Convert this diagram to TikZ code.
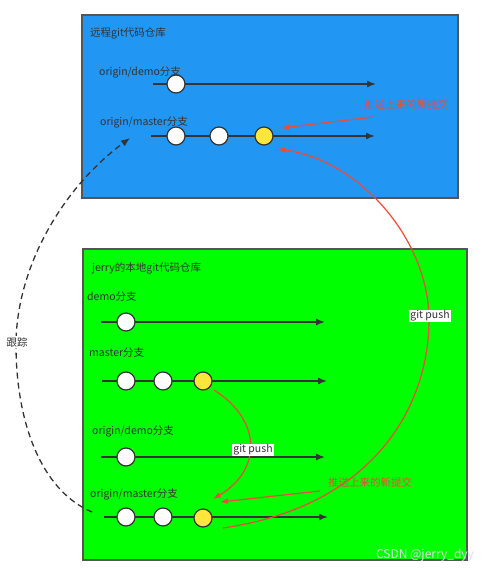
\documentclass[tikz,border=0pt]{standalone}
\usepackage{fontspec}
\setmainfont{Noto Sans CJK SC}
\usetikzlibrary{arrows.meta}
\definecolor{remoteblue}{RGB}{33,150,243}
\definecolor{localgreen}{RGB}{0,255,0}
\definecolor{linegray}{RGB}{51,51,51}
\definecolor{boxgray}{RGB}{85,85,85}
\definecolor{pushred}{RGB}{234,76,60}
\definecolor{newyellow}{RGB}{255,230,60}

\begin{document}
\begin{tikzpicture}[x=1pt, y=-1pt, >=Latex,
    every node/.style={font=\fontsize{10.5}{12}\selectfont, text=linegray},
    commit/.style={circle, draw=linegray, line width=1.2pt, fill=white, minimum size=18pt, inner sep=0pt},
    newcommit/.style={commit, fill=newyellow},
    branch/.style={draw=linegray, line width=1.5pt, -{Latex[length=9pt,width=7pt]}},
    brlabel/.style={anchor=west, inner sep=0pt},
    pushline/.style={draw=pushred, line width=1.2pt, -{Latex[length=8pt,width=6pt]}},
    pushtext/.style={text=pushred, inner sep=0pt},
    tag/.style={fill=white, inner sep=1pt}]
                \useasboundingbox (0,0) rectangle (496,573);

                % repositories
                \draw[fill=remoteblue, draw=boxgray, line width=1.2pt] (82,15) rectangle (458,198);
                \draw[fill=localgreen, draw=boxgray, line width=1.2pt] (83,249) rectangle (467,560);

                \node[brlabel] (remoteT) at (90,33) {远程git代码仓库};
                \node[brlabel] (localT) at (92,268) {jerry的本地git代码仓库};

                % branch lines
                \coordinate (rdS) at (153,84);  \coordinate (rdE) at (376,84);
                \coordinate (rmS) at (151,136); \coordinate (rmE) at (375,136);
                \coordinate (ldS) at (101,322); \coordinate (ldE) at (325,322);
                \coordinate (lmS) at (102,381); \coordinate (lmE) at (327,381);
                \coordinate (odS) at (101,457); \coordinate (odE) at (325,457);
                \coordinate (omS) at (104,517); \coordinate (omE) at (328,517);

                \draw[branch] (rdS) -- (rdE);
                \draw[branch] (rmS) -- (rmE);
                \draw[branch] (ldS) -- (ldE);
                \draw[branch] (lmS) -- (lmE);
                \draw[branch] (odS) -- (odE);
                \draw[branch] (omS) -- (omE);

                \node[brlabel] (rdT) at (99,72) {origin/demo分支};
                \node[brlabel] (rmT) at (100,122) {origin/master分支};
                \node[brlabel] (ldT) at (87,297) {demo分支};
                \node[brlabel] (lmT) at (89,353) {master分支};
                \node[brlabel] (odT) at (92,431) {origin/demo分支};
                \node[brlabel] (omT) at (90,494) {origin/master分支};

                % commits
                \node[commit] (rd1) at (176,84) {};
                \node[commit] (rm1) at (176,136) {};
                \node[commit] (rm2) at (219,136) {};
                \node[newcommit] (rm3) at (264,136) {};
                \node[commit] (ld1) at (126,322) {};
                \node[commit] (lm1) at (126,381) {};
                \node[commit] (lm2) at (163,381) {};
                \node[newcommit] (lm3) at (203,381) {};
                \node[commit] (od1) at (126,457) {};
                \node[commit] (om1) at (126,517) {};
                \node[commit] (om2) at (163,517) {};
                \node[newcommit] (om3) at (203,518) {};

                % new commits
                \node[pushtext] (rnewT) at (406,104) {推送上来的新提交};
                \node[pushtext] (lnewT) at (370,482) {推送上来的新提交};
                \coordinate (rnewS) at (373,117); \coordinate (rnewE) at (281,128);
                \coordinate (lnewS) at (320,491); \coordinate (lnewE) at (220,502);
                \draw[pushline] (rnewS) -- (rnewE);
                \draw[pushline] (lnewS) -- (lnewE);

                % git push
                \coordinate (lpushS) at (214,390); \coordinate (lpushE) at (213,499);
                \draw[pushline] (lpushS) .. controls (262,420) and (262,470) .. (lpushE);
                \node[tag] (lpushT) at (253,450) {git push};

                \coordinate (rpushS) at (223,528); \coordinate (rpushM) at (429,320); \coordinate (rpushE) at (277,149);
                \draw[pushline] (rpushS) .. controls (380,505) and (429,400) .. (rpushM)
                    .. controls (429,240) and (360,160) .. (rpushE);
                \node[tag] (rpushT) at (430,316) {git push};

                % tracking
                \coordinate (trackS) at (92,512); \coordinate (trackM) at (16,345); \coordinate (trackE) at (130,138);
                \draw[draw=linegray, line width=1.3pt, dash pattern=on 6pt off 4pt, -{Latex[length=9pt,width=7pt]}]
                    (trackS) .. controls (40,490) and (16,420) .. (trackM)
                    .. controls (16,270) and (60,190) .. (trackE);
                \node[tag] (trackT) at (17,342) {跟踪};

                \node[text=white!88!black, font=\fontsize{12}{14}\selectfont] (mark) at (425,555) {CSDN @jerry\_dyy};
\end{tikzpicture}
\end{document}
